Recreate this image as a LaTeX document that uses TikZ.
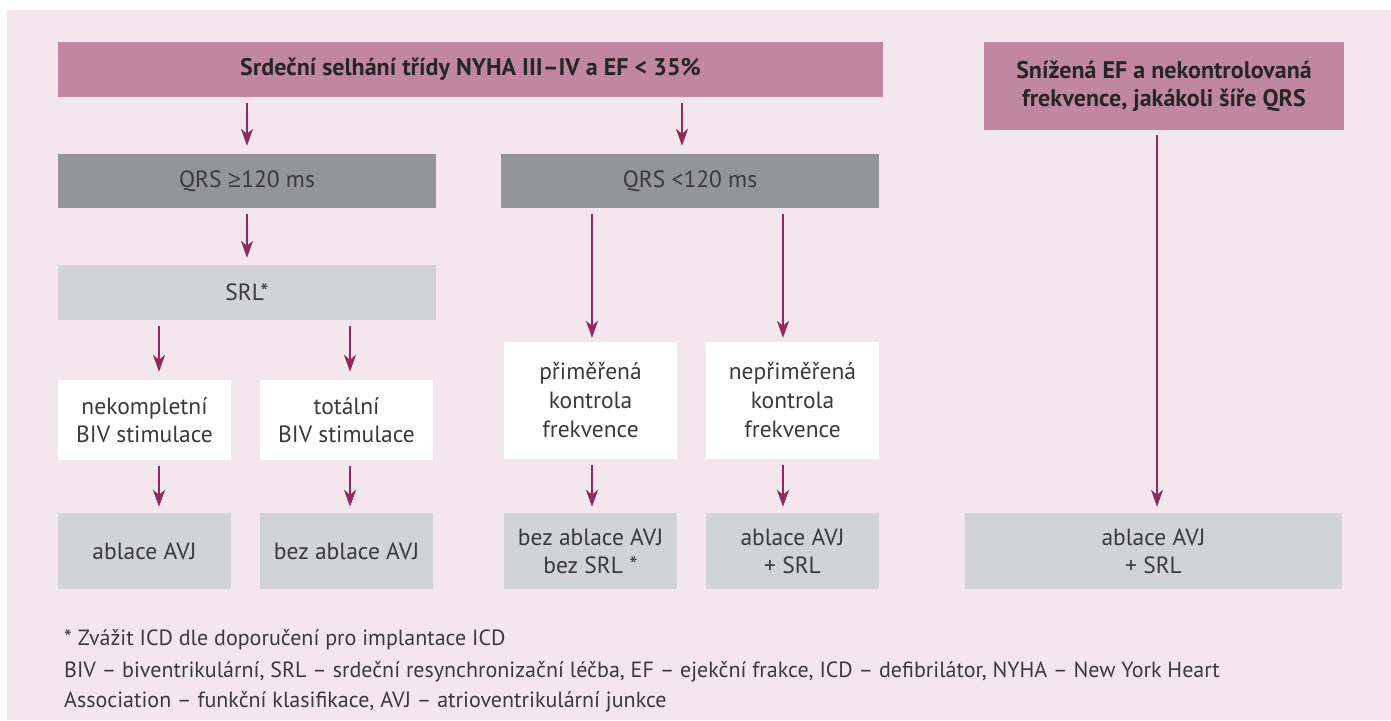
\documentclass[tikz,border=0pt]{standalone}
\usepackage{fontspec}
\setmainfont{PT Sans}
\newfontfamily\symfont{Open Sans}
\usetikzlibrary{arrows.meta,calc}
\definecolor{bgpink}{HTML}{F3E6ED}
\definecolor{magbox}{HTML}{C187A2}
\definecolor{darkbox}{HTML}{939598}
\definecolor{lightbox}{HTML}{D1D3D4}
\definecolor{arrcol}{HTML}{8E2A5F}
\definecolor{txt}{HTML}{3A3A3C}
\begin{document}
\begin{tikzpicture}[x=1pt,y=-1pt,
  box/.style={inner sep=0pt, align=center, text=txt, font=\fontsize{23.5}{28}\selectfont},
  headbox/.style={box, fill=magbox, text=black!85, font=\fontsize{24}{28}\selectfont\bfseries},
  qrsbox/.style={box, fill=darkbox, minimum width=378pt, minimum height=54pt},
  lgbox/.style={box, fill=lightbox},
  whbox/.style={box, fill=white, minimum width=173pt},
  resbox/.style={box, fill=lightbox, minimum width=173pt, minimum height=76pt},
  arr/.style={draw=arrcol, line width=2pt, -{Stealth[length=17pt,width=12pt,inset=5pt]}},
  foot/.style={inner sep=0pt, anchor=base west, text=txt, font=\fontsize{22}{30}\selectfont, align=left}
]
\useasboundingbox (0,0) rectangle (1391,720);
\fill[white] (0,0) rectangle (1391,720);
\fill[bgpink] (7,10) rectangle (1391,720);

% boxes
\node[headbox, minimum width=825pt, minimum height=55pt] (top) at (470.5,69.5) {Srdeční selhání třídy NYHA III–IV a EF < 35\%};
\node[headbox, minimum width=360pt, minimum height=88pt] (topR) at (1164,86) {Snížená EF a nekontrolovaná\\frekvence, jakákoli šíře QRS};
\node[qrsbox] (qrs1) at (247,181) {QRS {\symfont ≥}120 ms};
\node[qrsbox] (qrs2) at (690,181) {QRS <120 ms};
\node[lgbox, minimum width=378pt, minimum height=55pt] (srl) at (247,292.5) {SRL*};
\node[whbox, minimum height=80pt] (nek) at (144.5,420) {nekompletní\\BIV stimulace};
\node[whbox, minimum height=80pt] (tot) at (346.5,420) {totální\\BIV stimulace};
\node[whbox, minimum height=117pt, font=\fontsize{23.5}{29}\selectfont] (pri) at (590.5,400.5) {přiměřená\\kontrola\\frekvence};
\node[whbox, minimum height=117pt, font=\fontsize{23.5}{29}\selectfont] (nepri) at (792.5,400.5) {nepřiměřená\\kontrola\\frekvence};
\node[resbox] (r1) at (144.5,551) {ablace AVJ};
\node[resbox] (r2) at (346.5,551) {bez ablace AVJ};
\node[resbox] (r3) at (590.5,551) {bez ablace AVJ\\bez SRL *};
\node[resbox] (r4) at (792.5,551) {ablace AVJ\\+ SRL};
\node[resbox, minimum width=377pt] (r5) at (1153.5,551) {ablace AVJ\\+ SRL};

% arrow columns
\coordinate (xa) at (247,0);
\coordinate (xb) at (682,0);
\coordinate (xc) at (159,0);
\coordinate (xd) at (350,0);
\coordinate (xe) at (592,0);
\coordinate (xf) at (783,0);
\coordinate (xg) at (1157,0);

% arrows
\draw[arr] ($(top.south -| xa)+(0,6)$) -- ($(qrs1.north -| xa)+(0,-8)$);
\draw[arr] ($(top.south -| xb)+(0,6)$) -- ($(qrs2.north -| xb)+(0,-8)$);
\draw[arr] ($(qrs1.south -| xa)+(0,6)$) -- ($(srl.north -| xa)+(0,-7)$);
\draw[arr] ($(srl.south -| xc)+(0,6)$) -- ($(nek.north -| xc)+(0,-8)$);
\draw[arr] ($(srl.south -| xd)+(0,6)$) -- ($(tot.north -| xd)+(0,-8)$);
\draw[arr] ($(qrs2.south -| xe)+(0,6)$) -- ($(pri.north -| xe)+(0,-4)$);
\draw[arr] ($(qrs2.south -| xf)+(0,6)$) -- ($(nepri.north -| xf)+(0,-4)$);
\draw[arr] ($(nek.south -| xc)+(0,6)$) -- ($(r1.north -| xc)+(0,-6)$);
\draw[arr] ($(tot.south -| xd)+(0,6)$) -- ($(r2.north -| xd)+(0,-6)$);
\draw[arr] ($(pri.south -| xe)+(0,6)$) -- ($(r3.north -| xe)+(0,-6)$);
\draw[arr] ($(nepri.south -| xf)+(0,6)$) -- ($(r4.north -| xf)+(0,-6)$);
\draw[arr] ($(topR.south -| xg)+(0,5)$) -- ($(r5.north -| xg)+(0,-6)$);

% footnotes
\node[foot] (f1) at (64,645) {* Zvážit ICD dle doporučení pro implantace ICD};
\node[foot, anchor=north west] (f2) at (64,661) {BIV – biventrikulární, SRL – srdeční resynchronizační léčba, EF – ejekční frakce, ICD – defibrilátor, NYHA – New York Heart\\Association – funkční klasifikace, AVJ – atrioventrikulární junkce};
\end{tikzpicture}
\end{document}
